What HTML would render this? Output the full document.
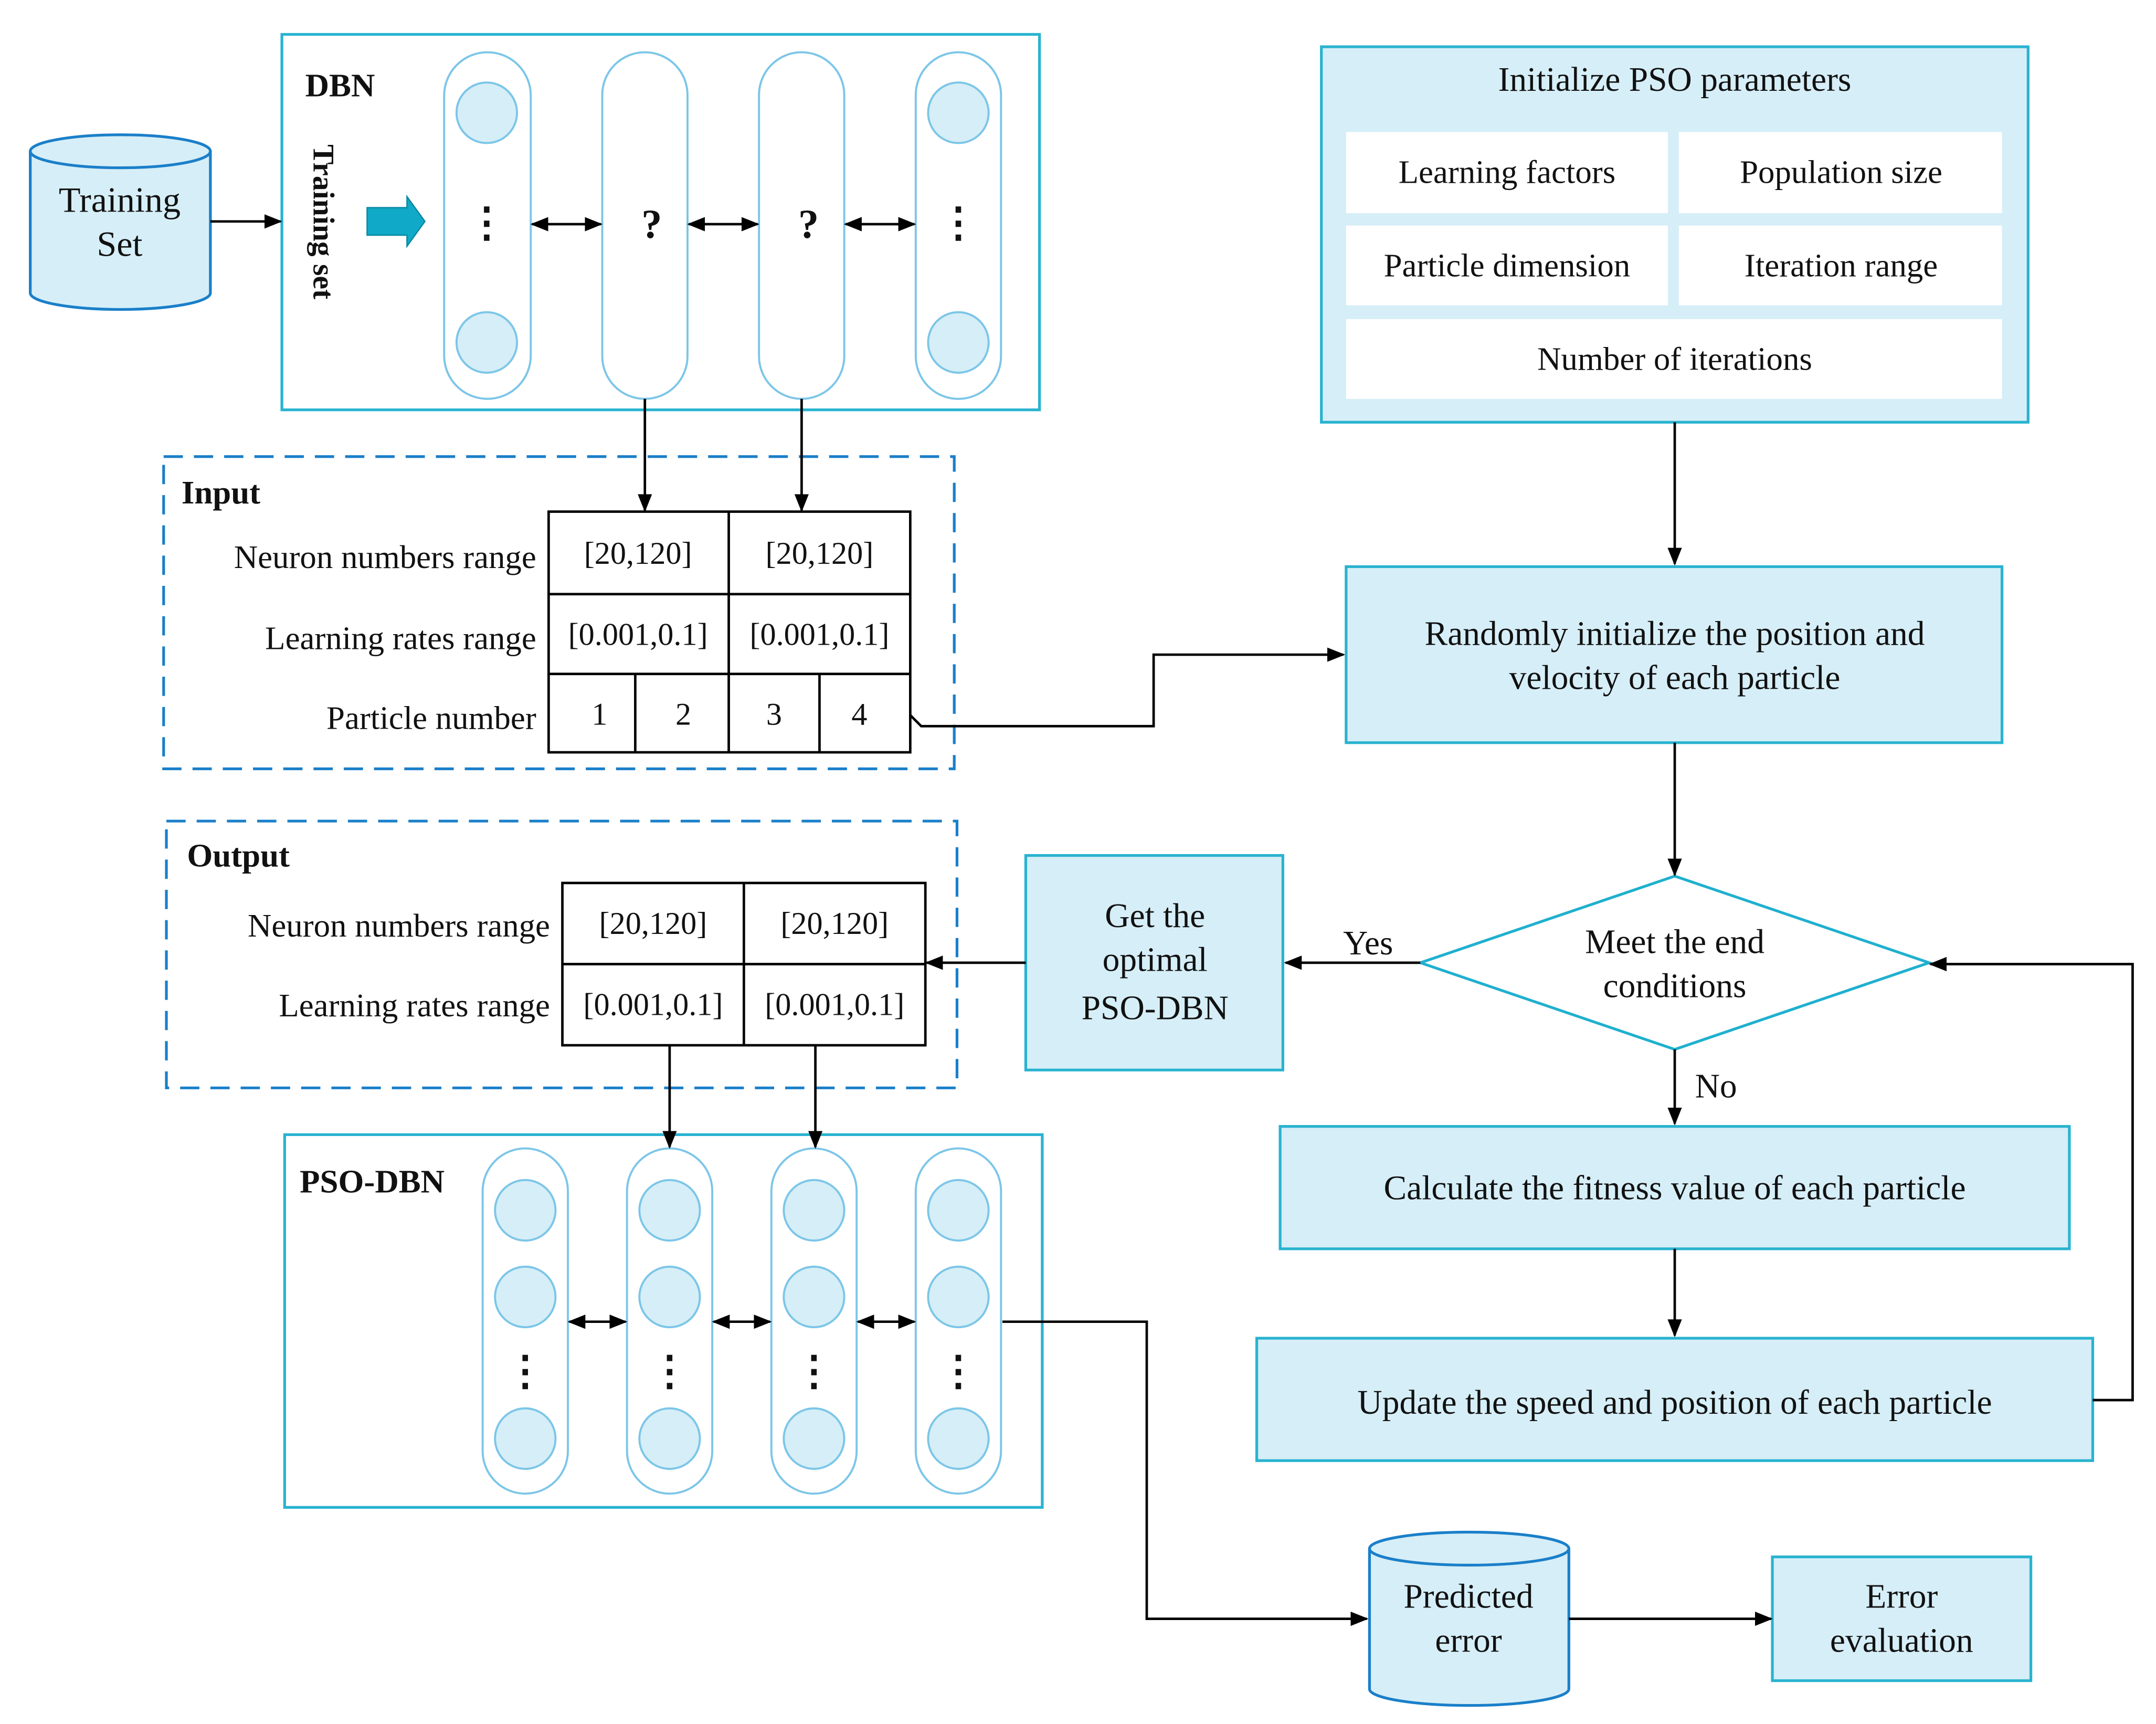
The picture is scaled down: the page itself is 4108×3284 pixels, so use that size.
<!DOCTYPE html>
<html><head><meta charset="utf-8"><style>html,body{margin:0;padding:0;background:#fff}svg{display:block}</style></head><body>
<svg width="4108" height="3284" viewBox="0 0 1568 1253.5" xmlns="http://www.w3.org/2000/svg" font-family="'Liberation Serif',serif" font-size="24" fill="#111">
<defs>
<marker id="b" viewBox="0 0 10 10" refX="9" refY="5" markerWidth="13" markerHeight="13" orient="auto-start-reverse" markerUnits="userSpaceOnUse"><path d="M0,1 L10,5 L0,9 z" fill="#000"/></marker>
</defs>
<!-- Training set cylinder -->
<path d="M22,110 L22,213 A65.5,12 0 0 0 153,213 L153,110" fill="#d6eef7" stroke="#1a7fc9" stroke-width="2"/>
<ellipse cx="87.5" cy="110" rx="65.5" ry="12" fill="#d6eef7" stroke="#1a7fc9" stroke-width="2"/>
<text x="87" y="154" text-anchor="middle" font-size="26">Training</text>
<text x="87" y="186" text-anchor="middle" font-size="26">Set</text>
<!-- DBN -->
<rect x="205" y="25" width="551" height="273" fill="#fff" stroke="#29b3d0" stroke-width="2"/>
<text x="222" y="70" font-weight="bold">DBN</text>
<text transform="translate(228,105) rotate(90)" font-weight="bold" font-size="22">Training set</text>
<path d="M267,151 L296,151 L296,143 L309,161 L296,179 L296,171 L267,171 z" fill="#10a9c7" stroke="#0b8aa3" stroke-width="1"/>
<g fill="#fff" stroke="#7cc6e8" stroke-width="1.5">
<rect x="323" y="38" width="63" height="252" rx="31.5"/>
<rect x="438" y="38" width="62" height="252" rx="31"/>
<rect x="552" y="38" width="62" height="252" rx="31"/>
<rect x="666" y="38" width="62" height="252" rx="31"/>
</g>
<g fill="#d6eef7" stroke="#7cc6e8" stroke-width="1.5">
<circle cx="354" cy="82" r="22"/><circle cx="354" cy="249" r="22"/>
<circle cx="697" cy="82" r="22"/><circle cx="697" cy="249" r="22"/>
</g>
<g font-size="30" text-anchor="middle" font-weight="bold">
<text x="354" y="172">⋮</text><text x="697" y="172">⋮</text>
<text x="474" y="173">?</text><text x="588" y="173">?</text>
</g>
<!-- Input -->
<rect x="119" y="332" width="575" height="227" fill="none" stroke="#1a7fc9" stroke-width="2" stroke-dasharray="14,8"/>
<text x="132" y="366" font-weight="bold">Input</text>
<g fill="none" stroke="#000" stroke-width="1.8">
<rect x="399" y="372" width="263" height="175"/>
<line x1="399" y1="432" x2="662" y2="432"/><line x1="399" y1="490" x2="662" y2="490"/>
<line x1="530" y1="372" x2="530" y2="547"/><line x1="462" y1="490" x2="462" y2="547"/><line x1="596" y1="490" x2="596" y2="547"/>
</g>
<g text-anchor="end">
<text x="390" y="413">Neuron numbers range</text>
<text x="390" y="472">Learning rates range</text>
<text x="390" y="530">Particle number</text>
</g>
<g text-anchor="middle" font-size="23">
<text x="464" y="410">[20,120]</text><text x="596" y="410">[20,120]</text>
<text x="464" y="469">[0.001,0.1]</text><text x="596" y="469">[0.001,0.1]</text>
<text x="436" y="527">1</text><text x="497" y="527">2</text><text x="563" y="527">3</text><text x="625" y="527">4</text>
</g>
<!-- Output -->
<rect x="121" y="597" width="575" height="194" fill="none" stroke="#1a7fc9" stroke-width="2" stroke-dasharray="14,8"/>
<text x="136" y="630" font-weight="bold">Output</text>
<g fill="none" stroke="#000" stroke-width="1.8">
<rect x="409" y="642" width="264" height="118"/>
<line x1="409" y1="701" x2="673" y2="701"/><line x1="541" y1="642" x2="541" y2="760"/>
</g>
<g text-anchor="end">
<text x="400" y="681">Neuron numbers range</text>
<text x="400" y="739">Learning rates range</text>
</g>
<g text-anchor="middle" font-size="23">
<text x="475" y="679">[20,120]</text><text x="607" y="679">[20,120]</text>
<text x="475" y="738">[0.001,0.1]</text><text x="607" y="738">[0.001,0.1]</text>
</g>
<!-- PSO-DBN -->
<rect x="207" y="825" width="551" height="271" fill="#fff" stroke="#29b3d0" stroke-width="2"/>
<text x="218" y="867" font-weight="bold">PSO-DBN</text>
<g fill="#fff" stroke="#7cc6e8" stroke-width="1.5">
<rect x="351" y="835" width="62" height="251" rx="31"/>
<rect x="456" y="835" width="62" height="251" rx="31"/>
<rect x="561" y="835" width="62" height="251" rx="31"/>
<rect x="666" y="835" width="62" height="251" rx="31"/>
</g>
<g fill="#d6eef7" stroke="#7cc6e8" stroke-width="1.5">
<circle cx="382" cy="880" r="22"/><circle cx="382" cy="943" r="22"/><circle cx="382" cy="1046" r="22"/>
<circle cx="487" cy="880" r="22"/><circle cx="487" cy="943" r="22"/><circle cx="487" cy="1046" r="22"/>
<circle cx="592" cy="880" r="22"/><circle cx="592" cy="943" r="22"/><circle cx="592" cy="1046" r="22"/>
<circle cx="697" cy="880" r="22"/><circle cx="697" cy="943" r="22"/><circle cx="697" cy="1046" r="22"/>
</g>
<g font-size="30" text-anchor="middle" font-weight="bold">
<text x="382" y="1007">⋮</text><text x="487" y="1007">⋮</text><text x="592" y="1007">⋮</text><text x="697" y="1007">⋮</text>
</g>
<!-- PSO init -->
<rect x="961" y="34" width="514" height="273" fill="#d6eef7" stroke="#29b3d0" stroke-width="2"/>
<text x="1218" y="66" text-anchor="middle" font-size="25">Initialize PSO parameters</text>
<g fill="#fff">
<rect x="979" y="96" width="234" height="59"/><rect x="1221" y="96" width="235" height="59"/>
<rect x="979" y="164" width="234" height="58"/><rect x="1221" y="164" width="235" height="58"/>
<rect x="979" y="232" width="477" height="58"/>
</g>
<g text-anchor="middle">
<text x="1096" y="133">Learning factors</text><text x="1339" y="133">Population size</text>
<text x="1096" y="201">Particle dimension</text><text x="1339" y="201">Iteration range</text>
<text x="1218" y="269">Number of iterations</text>
</g>
<rect x="979" y="412" width="477" height="128" fill="#d6eef7" stroke="#29b3d0" stroke-width="2"/>
<g text-anchor="middle" font-size="25">
<text x="1218" y="469">Randomly initialize the position and</text>
<text x="1218" y="501">velocity of each particle</text>
</g>
<polygon points="1218,637 1403,700 1218,763 1033,700" fill="#fff" stroke="#1fb0cf" stroke-width="2"/>
<g text-anchor="middle" font-size="25">
<text x="1218" y="693">Meet the end</text><text x="1218" y="725">conditions</text>
</g>
<text x="995" y="694" text-anchor="middle" font-size="25">Yes</text>
<text x="1248" y="798" text-anchor="middle" font-size="25">No</text>
<rect x="746" y="622" width="187" height="156" fill="#d6eef7" stroke="#29b3d0" stroke-width="2"/>
<g text-anchor="middle" font-size="25">
<text x="840" y="674">Get the</text><text x="840" y="706">optimal</text><text x="840" y="741">PSO-DBN</text>
</g>
<rect x="931" y="819" width="574" height="89" fill="#d6eef7" stroke="#29b3d0" stroke-width="2"/>
<text x="1218" y="872" text-anchor="middle" font-size="25">Calculate the fitness value of each particle</text>
<rect x="914" y="973" width="608" height="89" fill="#d6eef7" stroke="#29b3d0" stroke-width="2"/>
<text x="1218" y="1028" text-anchor="middle" font-size="25">Update the speed and position of each particle</text>
<!-- Predicted error -->
<path d="M996,1126 L996,1228 A72.5,12 0 0 0 1141,1228 L1141,1126" fill="#d6eef7" stroke="#1a7fc9" stroke-width="2"/>
<ellipse cx="1068.5" cy="1126" rx="72.5" ry="12" fill="#d6eef7" stroke="#1a7fc9" stroke-width="2"/>
<g text-anchor="middle" font-size="25">
<text x="1068" y="1169">Predicted</text><text x="1068" y="1201">error</text>
</g>
<rect x="1289" y="1132" width="188" height="90" fill="#d6eef7" stroke="#29b3d0" stroke-width="2"/>
<g text-anchor="middle" font-size="25">
<text x="1383" y="1169">Error</text><text x="1383" y="1201">evaluation</text>
</g>
<!-- connectors on top -->
<g stroke="#000" stroke-width="1.8" fill="none">
<line x1="153" y1="161" x2="204" y2="161" marker-end="url(#b)"/>
<line x1="387" y1="163" x2="437" y2="163" marker-start="url(#b)" marker-end="url(#b)"/>
<line x1="501" y1="163" x2="551" y2="163" marker-start="url(#b)" marker-end="url(#b)"/>
<line x1="615" y1="163" x2="665" y2="163" marker-start="url(#b)" marker-end="url(#b)"/>
<line x1="469" y1="290" x2="469" y2="371" marker-end="url(#b)"/>
<line x1="583" y1="290" x2="583" y2="371" marker-end="url(#b)"/>
<polyline points="662,520 670,528 839,528 839,476 977,476" marker-end="url(#b)"/>
<line x1="1218" y1="307" x2="1218" y2="410" marker-end="url(#b)"/>
<line x1="1218" y1="540" x2="1218" y2="636" marker-end="url(#b)"/>
<line x1="1033" y1="700" x2="935" y2="700" marker-end="url(#b)"/>
<line x1="746" y1="700" x2="674" y2="700" marker-end="url(#b)"/>
<line x1="1218" y1="763" x2="1218" y2="817" marker-end="url(#b)"/>
<line x1="1218" y1="908" x2="1218" y2="971" marker-end="url(#b)"/>
<polyline points="1522,1018 1551,1018 1551,701 1404,701" marker-end="url(#b)"/>
<line x1="487" y1="760" x2="487" y2="834" marker-end="url(#b)"/>
<line x1="593" y1="760" x2="593" y2="834" marker-end="url(#b)"/>
<line x1="414" y1="961" x2="455" y2="961" marker-start="url(#b)" marker-end="url(#b)"/>
<line x1="519" y1="961" x2="560" y2="961" marker-start="url(#b)" marker-end="url(#b)"/>
<line x1="624" y1="961" x2="665" y2="961" marker-start="url(#b)" marker-end="url(#b)"/>
<polyline points="729,961 834,961 834,1177 994,1177" marker-end="url(#b)"/>
<line x1="1141" y1="1177" x2="1288" y2="1177" marker-end="url(#b)"/>
</g>
</svg>
</body></html>
